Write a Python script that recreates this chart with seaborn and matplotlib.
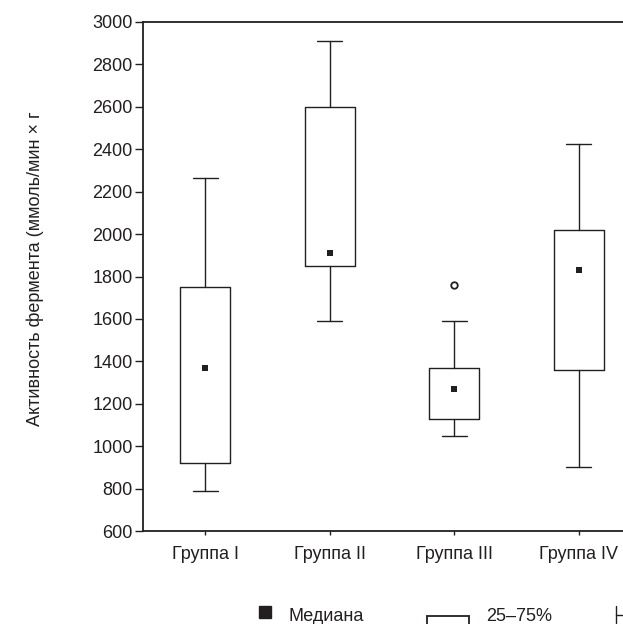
import numpy as np
import matplotlib.pyplot as plt
import seaborn as sns
from matplotlib.patches import Rectangle
from matplotlib.lines import Line2D

# Values
groups = ['Группа I', 'Группа II', 'Группа III', 'Группа IV']
whisker_low = [790, 1590, 1050, 900]
q1 = [920, 1850, 1130, 1360]
median = [1370, 1910, 1270, 1830]
q3 = [1750, 2600, 1370, 2020]
whisker_high = [2265, 2910, 1590, 2425]
outlier_group = ['Группа III']
outlier_value = [1760]

y_ticks = list(range(600, 3001, 200))
y_label = 'Активность фермента (ммоль/мин × г'
legend_labels = ['Медиана', '25–75%']

sns.set_style('ticks')
plt.rcParams['font.family'] = ['Liberation Sans', 'DejaVu Sans']
ink = '#231f20'
fs = 13

fig = plt.figure(figsize=(6.23, 6.24), dpi=100)
ax = fig.add_axes([143 / 623, 1 - 531 / 624, 498 / 623, 509 / 624])

pos = np.arange(len(groups))
stats = []
for g, wl, a, m, b, wh in zip(groups, whisker_low, q1, median, q3, whisker_high):
    stats.append(dict(label=g, whislo=wl, q1=a, med=m, q3=b, whishi=wh, fliers=[]))

line = dict(color=ink, linewidth=1.0)
ax.bxp(stats, positions=pos, widths=0.4, capwidths=0.2, showfliers=False,
       boxprops=line, whiskerprops=line, capprops=line,
       medianprops=dict(linewidth=0))

# median markers and outlier
sns.scatterplot(x=pos, y=median, marker='s', color=ink, s=22, linewidth=0, ax=ax)
out_x = [groups.index(g) for g in outlier_group]
sns.scatterplot(x=out_x, y=outlier_value, marker='o', facecolor='white',
                edgecolor=ink, linewidth=1.3, s=22, ax=ax)

ax.set_xlim(-0.5, len(groups) - 0.5)
ax.set_ylim(600, 3000)
ax.set_yticks(y_ticks)
ax.set_xticks(pos)
ax.set_xticklabels(groups)
ax.set_xlabel('')
ax.set_ylabel('')
for s in ax.spines.values():
    s.set_color(ink)
    s.set_linewidth(1.3)
ax.tick_params(axis='y', direction='out', length=6, width=1.0, pad=1.5,
               labelsize=fs, colors=ink)
ax.tick_params(axis='x', direction='out', length=3, width=1.0, pad=8,
               labelsize=fs, colors=ink)

fig.text(35 / 623, 1 - 269 / 624, y_label, rotation=90, ha='center', va='center',
         fontsize=fs, color=ink)

# legend strip at the bottom (partly cut by the image edge)
fig.add_artist(Line2D([265 / 623], [1 - 612 / 624], marker='s', markersize=8.5,
                      color=ink, linestyle='none', transform=fig.transFigure))
fig.text(288 / 623, 1 - 621 / 624, legend_labels[0], fontsize=fs, color=ink,
         va='baseline')
fig.add_artist(Rectangle((427 / 623, -0.02), 42 / 623, 0.02 + 1 - 616 / 624,
                         facecolor='white', edgecolor=ink, linewidth=1.3,
                         transform=fig.transFigure))
fig.text(486 / 623, 1 - 621 / 624, legend_labels[1], fontsize=fs, color=ink,
         va='baseline')
fig.add_artist(Line2D([616 / 623, 616 / 623], [1 - 606 / 624, 1 - 623 / 624],
                      color=ink, linewidth=1.0, transform=fig.transFigure))
fig.add_artist(Line2D([616 / 623, 1.01], [1 - 615 / 624, 1 - 615 / 624], color=ink,
                      linewidth=1.0, transform=fig.transFigure))

fig.savefig('out.png', dpi=100)
